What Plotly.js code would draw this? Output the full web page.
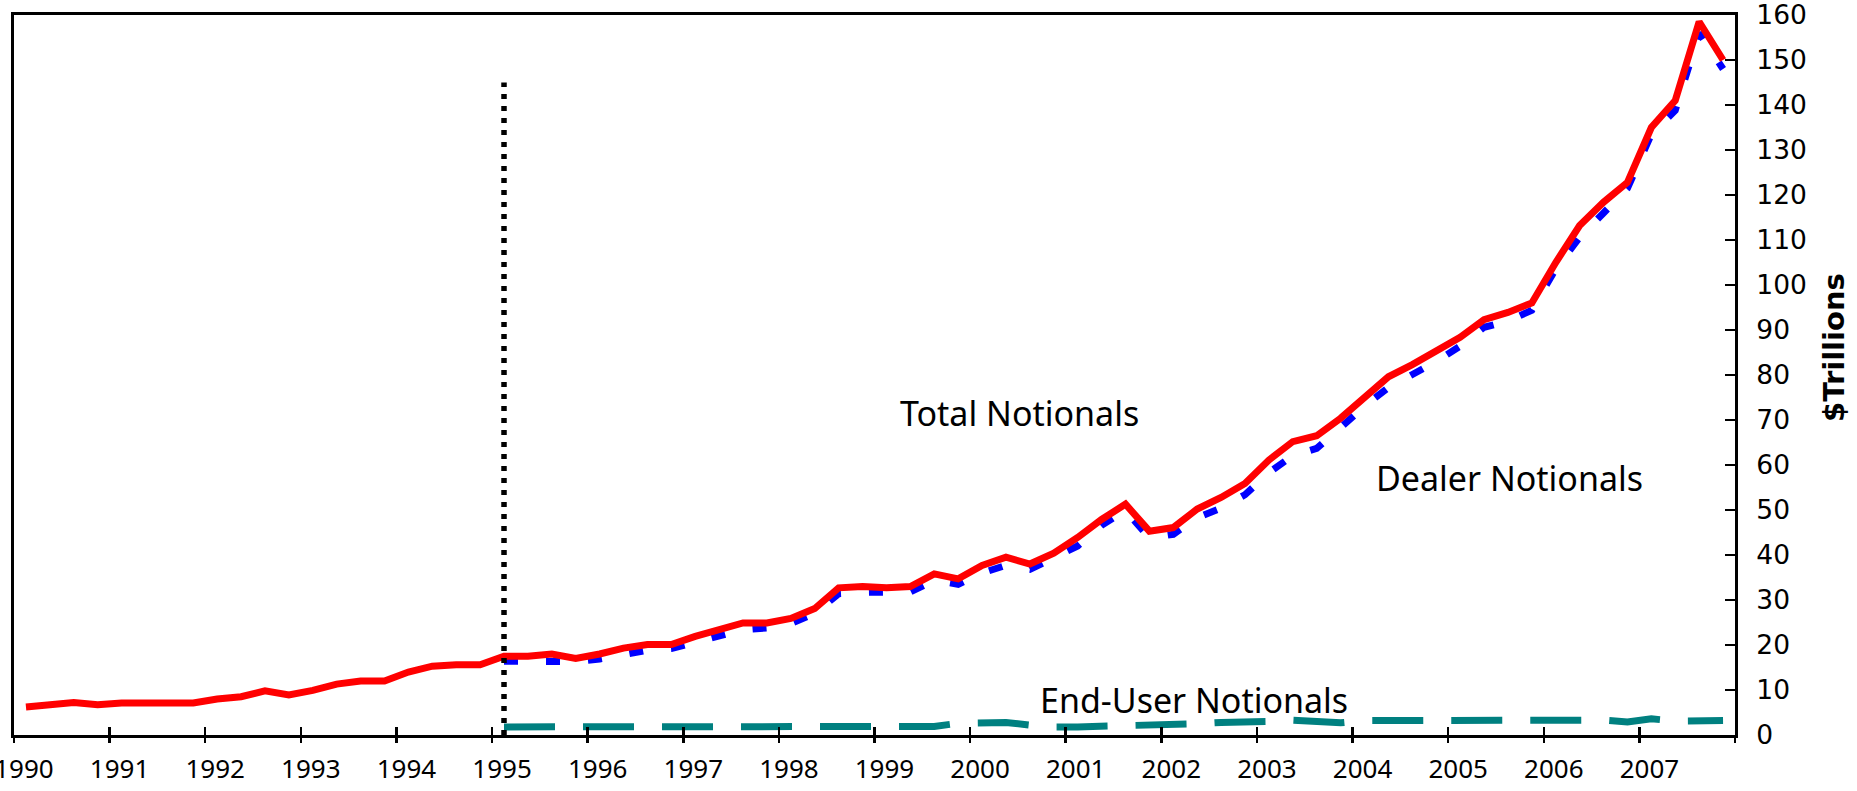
<!DOCTYPE html>
<html>
<head>
<meta charset="utf-8">
<script src="https://cdn.plot.ly/plotly-3.0.1.min.js"></script>
<style>
  html, body { margin: 0; padding: 0; background: #ffffff; }
  #chart { width: 1857px; height: 791px; }
</style>
</head>
<body>
<div id="chart"></div>
<script>
// ---- Data (quarterly, 1990Q1 .. 2007Q4), $ trillions ----
const years = [1990, 1991, 1992, 1993, 1994, 1995, 1996, 1997, 1998,
               1999, 2000, 2001, 2002, 2003, 2004, 2005, 2006, 2007];
const quarterNumbers = [1, 2, 3, 4];

const totalNotionals = [
  6.2, 6.7, 7.2, 6.7,      // 1990
  7.1, 7.1, 7.1, 7.1,      // 1991
  8.0, 8.5, 9.8, 8.9,      // 1992
  9.9, 11.3, 12.0, 12.0,   // 1993
  14.0, 15.3, 15.6, 15.6,  // 1994
  17.5, 17.5, 18.0, 17.0,  // 1995
  18.0, 19.3, 20.1, 20.1,  // 1996
  21.9, 23.2, 24.9, 24.9,  // 1997
  25.9, 28.1, 32.7, 33.0,  // 1998
  32.7, 33.0, 35.8, 34.7,  // 1999
  37.7, 39.5, 38.0, 40.4,  // 2000
  43.9, 47.9, 51.3, 45.3,  // 2001
  46.1, 50.2, 52.8, 55.9,  // 2002
  61.1, 65.2, 66.5, 70.4,  // 2003
  75.0, 79.6, 82.3, 85.4,  // 2004
  88.4, 92.3, 93.9, 96.0,  // 2005
  105.0, 113.2, 118.4, 122.8, // 2006
  135.0, 141.0, 158.5, 150.0  // 2007
];

const dealerNotionals = [
  null, null, null, null,
  null, null, null, null,
  null, null, null, null,
  null, null, null, null,
  null, null, null, null,
  16.4, 16.4, 16.5, 16.3,
  16.9, 18.0, 18.8, 19.2,
  20.6, 22.1, 23.4, 23.8,
  24.8, 27.0, 31.4, 31.7,
  31.6, 31.8, 34.4, 33.5,
  36.0, 37.7, 36.8, 39.2,
  42.0, 46.6, 49.9, 43.8,
  44.6, 48.3, 50.4, 53.4,
  58.3, 62.1, 63.7, 68.3,
  73.1, 77.2, 79.9, 83.0,
  86.4, 90.6, 92.0, 94.4,
  103.6, 110.6, 116.0, 121.5,
  133.5, 138.8, 156.0, 148.0
];

const endUserNotionals = [
  null, null, null, null,
  null, null, null, null,
  null, null, null, null,
  null, null, null, null,
  null, null, null, null,
  1.8, 1.8, 1.8, 1.8,
  1.8, 1.8, 1.8, 1.8,
  1.8, 1.8, 1.8, 1.8,
  1.8, 1.8, 1.8, 1.8,
  1.8, 1.8, 1.9, 2.6,
  2.8, 2.8, 2.2, 1.8,
  1.8, 1.9, 2.1, 2.4,
  2.4, 2.5, 2.8, 2.8,
  3.0, 3.3, 3.0, 2.7,
  3.2, 3.2, 3.2, 3.2,
  3.2, 3.2, 3.2, 3.2,
  3.2, 3.2, 3.3, 2.9,
  3.6, 3.1, 3.2, 3.2
];

// Vertical dotted divider at the start of the dealer / end-user series
const dividerQuarter = { year: 1995, quarter: 1 };
const dividerLevels = [0, 145];

const yearTickLabels = years.map(String);

// ---- Build x positions from the quarter categories ----
function quarterPosition(year, q) { return year + (q - 0.5) / 4; }
const quarterX = [];
years.forEach(y => quarterNumbers.forEach(q => quarterX.push(quarterPosition(y, q))));
const dividerX = dividerLevels.map(() => quarterPosition(dividerQuarter.year, dividerQuarter.quarter));

const tickVals = years.concat([years[years.length - 1] + 1]);
const tickText = yearTickLabels.concat(['']);

const traces = [
  { x: quarterX, y: endUserNotionals, type: 'scatter', mode: 'lines', name: 'End-User Notionals',
    line: { color: '#008080', width: 7, dash: '51px,28px' }, hoverinfo: 'skip' },
  { x: quarterX, y: dealerNotionals, type: 'scatter', mode: 'lines', name: 'Dealer Notionals',
    line: { color: '#0000FF', width: 7, dash: '14px,28px' }, hoverinfo: 'skip' },
  { x: quarterX, y: totalNotionals, type: 'scatter', mode: 'lines', name: 'Total Notionals',
    line: { color: '#FF0000', width: 7 }, hoverinfo: 'skip' },
  { x: dividerX, y: dividerLevels, type: 'scatter', mode: 'lines', name: 'divider',
    line: { color: '#000000', width: 5.5, dash: '5px,7px' }, hoverinfo: 'skip' },
  { x: [], y: [], xaxis: 'x2', type: 'scatter', mode: 'lines', showlegend: false, hoverinfo: 'skip' }
];

const axisFontX = { family: 'Noto Sans, Liberation Sans, sans-serif', size: 26, color: '#000' };
const axisFontY = { family: 'DejaVu Sans, Verdana, sans-serif', size: 26.5, color: '#000' };
const noteFont = { family: 'Noto Sans, Liberation Sans, sans-serif', size: 34, color: '#000' };

const layout = {
  width: 1857, height: 791,
  margin: { l: 14, r: 122, t: 15, b: 56, pad: 0 },
  paper_bgcolor: '#ffffff', plot_bgcolor: '#ffffff',
  showlegend: false,
  xaxis: {
    range: [1990, 2008], tickmode: 'array', tickvals: tickVals, ticktext: tickText,
    ticks: 'outside', ticklen: 5, tickwidth: 2.5, tickcolor: '#000',
    showline: true, linewidth: 3, linecolor: '#000', mirror: true,
    showgrid: false, zeroline: false, tickfont: axisFontX,
    ticklabelshift: 10, ticklabelstandoff: 4, ticklabeloverflow: 'allow'
  },
  xaxis2: {
    overlaying: 'x', anchor: 'y', side: 'bottom',
    range: [1990, 2008], tickmode: 'array', tickvals: tickVals,
    ticks: 'inside', ticklen: 8, tickwidth: 2.5, tickcolor: '#000',
    showticklabels: false, showline: false, showgrid: false, zeroline: false
  },
  yaxis: {
    side: 'right', range: [0, 160], tickmode: 'linear', tick0: 0, dtick: 10,
    ticks: 'inside', ticklen: 10, tickwidth: 2.5, tickcolor: '#000',
    showline: true, linewidth: 3, linecolor: '#000', mirror: true,
    showgrid: false, zeroline: false, tickfont: axisFontY,
    ticklabelstandoff: 13, ticklabeloverflow: 'allow'
  },
  annotations: [
    { text: 'Total Notionals', xref: 'x', yref: 'y', x: 2000.52, y: 71.6,
      showarrow: false, font: noteFont, xanchor: 'center', yanchor: 'middle' },
    { text: 'Dealer Notionals', xref: 'x', yref: 'y', x: 2005.64, y: 57.1,
      showarrow: false, font: noteFont, xanchor: 'center', yanchor: 'middle' },
    { text: 'End-User Notionals', xref: 'x', yref: 'y', x: 2002.34, y: 7.8,
      showarrow: false, font: noteFont, xanchor: 'center', yanchor: 'middle' },
    { text: '<b>$Trillions</b>', xref: 'paper', yref: 'paper', x: 1.0575, y: 0.539,
      textangle: -90, showarrow: false, xanchor: 'center', yanchor: 'middle',
      font: { family: 'DejaVu Sans, Verdana, sans-serif', size: 29, color: '#000' } }
  ]
};

Plotly.newPlot('chart', traces, layout, { displayModeBar: false, staticPlot: true });
</script>
</body>
</html>
